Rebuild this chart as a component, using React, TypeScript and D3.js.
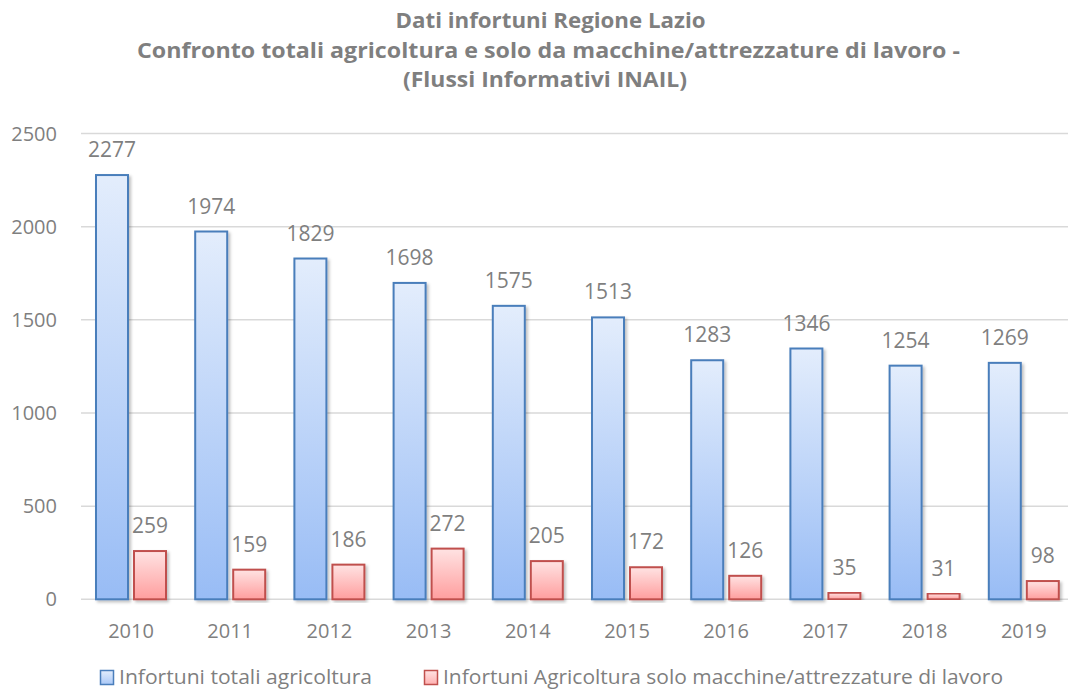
import React from "react";
import * as d3 from "d3";

const years = ["2010", "2011", "2012", "2013", "2014", "2015", "2016", "2017", "2018", "2019"];
const totali = [2277, 1974, 1829, 1698, 1575, 1513, 1283, 1346, 1254, 1269];
const macchine = [259, 159, 186, 272, 205, 172, 126, 35, 31, 98];
const yTicks = [0, 500, 1000, 1500, 2000, 2500];
const seriesNames = ["Infortuni totali agricoltura", "Infortuni Agricoltura solo macchine/attrezzature di lavoro"];
const titleLines = [
  "Dati infortuni Regione Lazio",
  "Confronto totali agricoltura e solo da macchine/attrezzature di lavoro -",
  "(Flussi Informativi INAIL)",
];

const W = 1068;
const H = 697;
const FONT = "'Open Sans', sans-serif";
const GREY = "#7f7f7f";

export default function App() {
  const x = d3.scaleBand<string>().domain(years).range([81.4, 1073.4]).paddingInner(0).paddingOuter(0);
  const inner = d3.scaleBand<number>().domain([0, 1]).range([-35, 35]).paddingInner(6 / 38).paddingOuter(0);
  const y = d3.scaleLinear().domain([0, 2500]).range([599.3, 133.5]);

  const series = [
    { values: totali, fill: "url(#gBlue)", stroke: "#4a7ebb" },
    { values: macchine, fill: "url(#gRed)", stroke: "#c0504d" },
  ];

  const titleLens = [310, 823, 284];
  const titleX = [550.5, 548.5, 545];
  const titleY = [28, 58, 87];

  return (
    <svg width={W} height={H} style={{ position: "absolute", left: 0, top: 0, background: "#fff" }}>
      <defs>
        <linearGradient id="gBlue" x1="0" y1="0" x2="0" y2="1">
          <stop offset="0" stopColor="#e3edfc" />
          <stop offset="1" stopColor="#98bcf5" />
        </linearGradient>
        <linearGradient id="gRed" x1="0" y1="0" x2="0" y2="1">
          <stop offset="0" stopColor="#ffe3e3" />
          <stop offset="1" stopColor="#ff9e9e" />
        </linearGradient>
        <linearGradient id="lBlue" x1="0" y1="0" x2="0" y2="1">
          <stop offset="0" stopColor="#e3edfc" />
          <stop offset="1" stopColor="#aac8f7" />
        </linearGradient>
        <linearGradient id="lRed" x1="0" y1="0" x2="0" y2="1">
          <stop offset="0" stopColor="#ffe3e3" />
          <stop offset="1" stopColor="#ffb0b0" />
        </linearGradient>
        <filter id="shadow" x="-20%" y="-5%" width="150%" height="115%">
          <feDropShadow dx="2" dy="2" stdDeviation="1.5" floodColor="#000" floodOpacity="0.25" />
        </filter>
      </defs>

      {titleLines.map((t, i) => (
        <text
          key={i}
          x={titleX[i]}
          y={titleY[i]}
          textAnchor="middle"
          fontFamily={FONT}
          fontWeight="bold"
          fontSize={21}
          fill={GREY}
          textLength={titleLens[i]}
          lengthAdjust="spacingAndGlyphs"
        >
          {t}
        </text>
      ))}

      {yTicks.map((t) => (
        <g key={t}>
          <line x1={81} x2={W} y1={y(t)} y2={y(t)} stroke="#d9d9d9" strokeWidth={1.5} />
          <text x={57} y={y(t) + 7} textAnchor="end" fontFamily={FONT} fontSize={20} fill={GREY}>
            {t}
          </text>
        </g>
      ))}

      {years.map((yr, i) => {
        const cx = (x(yr) as number) + x.bandwidth() / 2;
        return (
          <g key={yr}>
            {series.map((s, si) => {
              const bx = cx + (inner(si) as number);
              const top = y(s.values[i]);
              return (
                <g key={si}>
                  <rect
                    x={bx}
                    y={top}
                    width={inner.bandwidth()}
                    height={y(0) - top}
                    fill={s.fill}
                    stroke={s.stroke}
                    strokeWidth={2}
                    filter="url(#shadow)"
                  />
                  <text
                    x={bx + inner.bandwidth() / 2}
                    y={top - 18}
                    textAnchor="middle"
                    fontFamily={FONT}
                    fontSize={21}
                    fill={GREY}
                  >
                    {s.values[i]}
                  </text>
                </g>
              );
            })}
            <text x={cx} y={638} textAnchor="middle" fontFamily={FONT} fontSize={20} fill={GREY}>
              {yr}
            </text>
          </g>
        );
      })}

      {/* legend */}
      <rect x={100.5} y={670.5} width={13} height={14} fill="url(#lBlue)" stroke="#4a7ebb" strokeWidth={1.5} />
      <text x={119} y={684} fontFamily={FONT} fontSize={20} fill={GREY} textLength={253} lengthAdjust="spacingAndGlyphs">
        {seriesNames[0]}
      </text>
      <rect x={424.5} y={670.5} width={13} height={14} fill="url(#lRed)" stroke="#c0504d" strokeWidth={1.5} />
      <text x={443} y={684} fontFamily={FONT} fontSize={20} fill={GREY} textLength={560} lengthAdjust="spacingAndGlyphs">
        {seriesNames[1]}
      </text>
    </svg>
  );
}
